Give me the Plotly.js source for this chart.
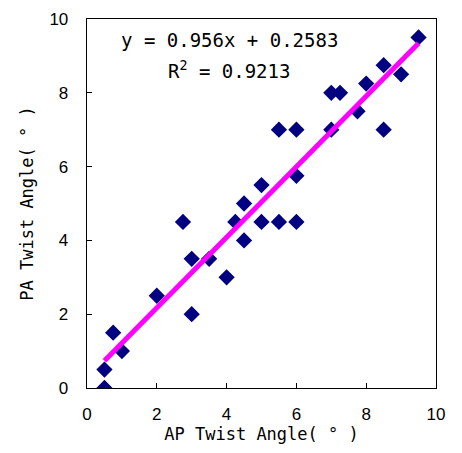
<!DOCTYPE html>
<html>
<head>
<meta charset="utf-8">
<script src="https://cdn.plot.ly/plotly-3.0.1.min.js"></script>
<style>html,body{margin:0;padding:0;background:#fff;}#chart{width:462px;height:453px;}</style>
</head>
<body>
<div id="chart"></div>
<script>
const apTwist = [0.5,0.5,0.75,1,2,2.75,3,3,3.5,4,4.25,4.5,4.5,5,5,5.5,6,6,5.5,6,7,7,7.25,7.75,8,8.5,9,8.5,9.5];
const paTwist = [0,0.5,1.5,1,2.5,4.5,3.5,2,3.5,3,4.5,5,4,5.5,4.5,4.5,4.5,5.75,7,7,7,8,8,7.5,8.25,8.75,8.5,7,9.5];
const slope = 0.956;
const intercept = 0.2583;
const rSquared = 0.9213;
const tickVals = [0,2,4,6,8,10];

const xMin = Math.min(...apTwist), xMax = Math.max(...apTwist);
const fitX = [xMin, xMax];
const fitY = fitX.map(x => slope * x + intercept);

const monoFont = 'DejaVu Sans Mono, Liberation Mono, monospace';
const tickFont = {family: 'Liberation Sans, Arial, sans-serif', size: 17, color: '#000'};

const traces = [
  {x: apTwist, y: paTwist, type: 'scatter', mode: 'markers',
   marker: {symbol: 'diamond', size: 12.5, color: '#000080'}, hoverinfo: 'x+y'},
  {x: fitX, y: fitY, type: 'scatter', mode: 'lines',
   line: {color: '#ff00ff', width: 5}, hoverinfo: 'skip'}
];

const axisCommon = {
  range: [0, 10], tickvals: tickVals, ticktext: tickVals.map(String),
  showgrid: false, zeroline: false, showline: true, linecolor: '#000', linewidth: 1.3,
  mirror: true, ticks: 'inside', ticklen: 5, tickcolor: '#000', tickwidth: 1,
  tickfont: tickFont, fixedrange: true
};

const layout = {
  width: 462, height: 453,
  margin: {l: 87, r: 26, t: 19, b: 65},
  paper_bgcolor: '#fff', plot_bgcolor: '#fff',
  showlegend: false,
  xaxis: Object.assign({}, axisCommon, {
    ticklabelstandoff: 10,
    title: {text: 'AP Twist Angle( ° )', font: {family: monoFont, size: 17, color: '#000'}, standoff: 5}
  }),
  yaxis: Object.assign({}, axisCommon, {
    ticklabelstandoff: 14,
    title: {text: 'PA Twist Angle( ° )', font: {family: monoFont, size: 17, color: '#000'}, standoff: 11}
  }),
  annotations: [
    {x: 4.08, y: 9.43, xref: 'x', yref: 'y', showarrow: false,
     text: 'y = ' + slope + 'x + ' + intercept,
     font: {family: monoFont, size: 19, color: '#000'}},
    {x: 4.08, y: 8.62, xref: 'x', yref: 'y', showarrow: false,
     text: 'R<sup>2</sup> = ' + rSquared,
     font: {family: monoFont, size: 19, color: '#000'}}
  ]
};

Plotly.newPlot('chart', traces, layout, {displayModeBar: false, staticPlot: true});
</script>
</body>
</html>
